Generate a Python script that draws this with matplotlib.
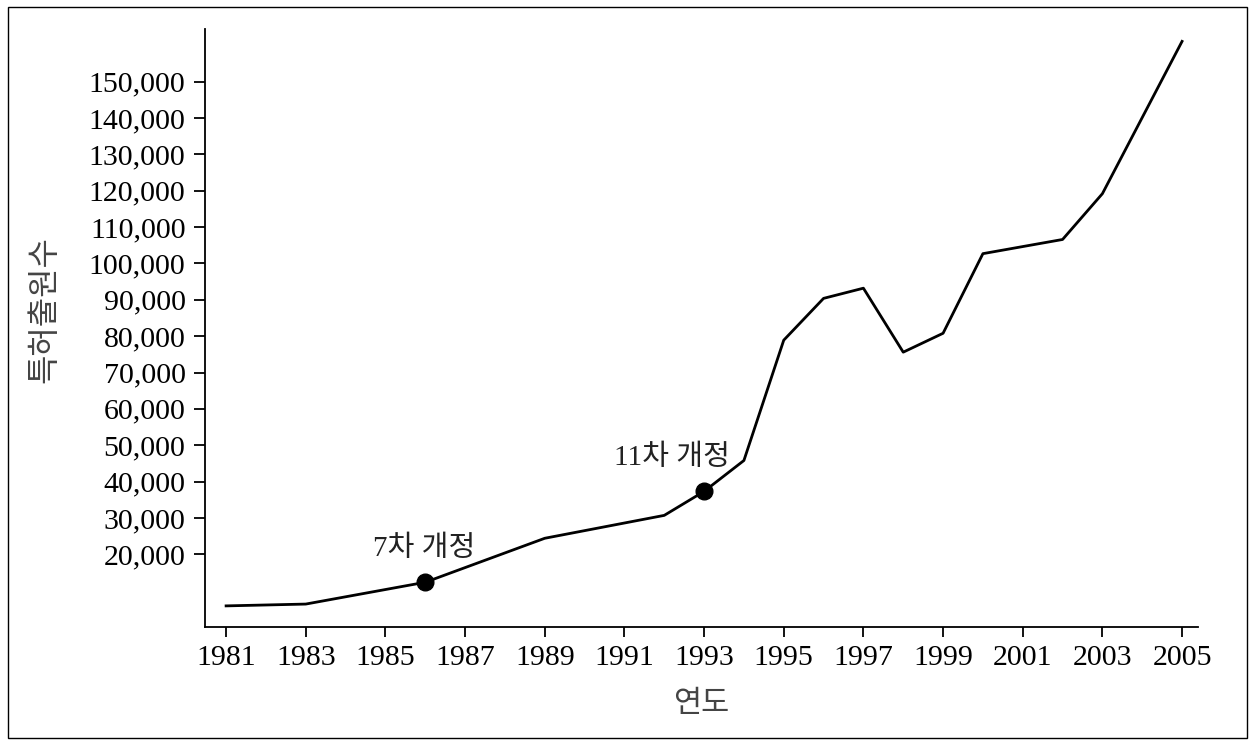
import matplotlib.pyplot as plt
from matplotlib.patches import Rectangle
from matplotlib.ticker import FuncFormatter

plt.rcParams['font.family'] = ['Liberation Serif', 'Noto Sans CJK KR', 'DejaVu Sans']

# Patent applications by year
years = [1981, 1983, 1986, 1989, 1992, 1993, 1994, 1995, 1996, 1997,
         1998, 1999, 2000, 2002, 2003, 2005]
applications = [5800, 6300, 12300, 24400, 30700, 37300, 45800, 78900, 90400,
                93200, 75600, 80800, 102700, 106600, 119200, 161100]

# Revisions marked on the line
rev_years = [1986, 1993]
rev_values = [12300, 37300]
rev_labels = ["7차 개정", "11차 개정"]

x_ticks = list(range(1981, 2006, 2))
y_ticks = list(range(20000, 150001, 10000))

fig = plt.figure(figsize=(12.53, 7.44), dpi=100)
ax = fig.add_axes([0.1636, 0.1573, 0.7925, 0.8037])

ax.plot(years, applications, color="black", linewidth=2)
ax.plot(rev_years, rev_values, "o", color="black", markersize=12)

ax.annotate(rev_labels[0], (rev_years[0], rev_values[0]), xytext=(-1, 19),
            textcoords="offset points", ha="center", fontsize=21, color="#222222")
ax.annotate(rev_labels[1], (rev_years[1], rev_values[1]), xytext=(-23, 19),
            textcoords="offset points", ha="center", fontsize=21, color="#222222")

ax.set_xlim(1980.47, 2005.4)
ax.set_ylim(0, 164500)
ax.set_xticks(x_ticks)
ax.set_yticks(y_ticks)
ax.yaxis.set_major_formatter(FuncFormatter(lambda v, p: f"{int(v):,}"))

ax.spines["top"].set_visible(False)
ax.spines["right"].set_visible(False)
ax.spines["left"].set_linewidth(1.3)
ax.spines["bottom"].set_linewidth(1.3)
ax.tick_params(axis="y", length=8, width=1.3, labelsize=21.5, pad=6)
ax.tick_params(axis="x", length=7, width=1.3, labelsize=21.5, pad=6)

ax.set_xlabel("연도", fontsize=22, labelpad=14, color="#444444")
ax.set_ylabel("특허출원수", fontsize=23, color="#444444")
ax.yaxis.set_label_coords(-0.146, 0.53)

# Frame around the whole picture
fig.patches.append(Rectangle((0.006, 0.008), 0.989, 0.983, transform=fig.transFigure,
                             fill=False, edgecolor="black", linewidth=1))

plt.savefig("out.png", dpi=100)
